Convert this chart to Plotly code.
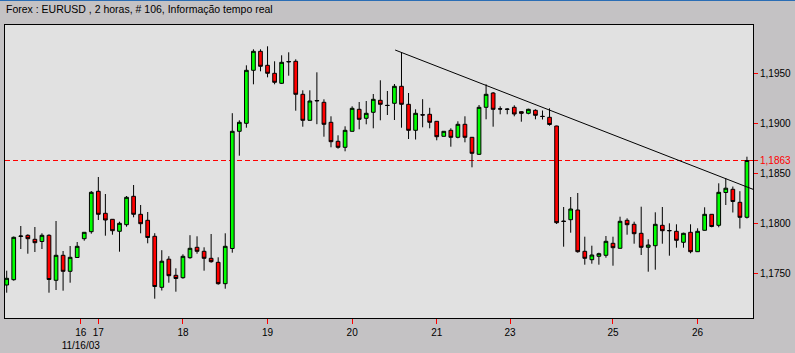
import plotly.graph_objects as go

title_text = "Forex : EURUSD , 2 horas, # 106, Informação tempo real"

opens = [1.17385, 1.17438, 1.17870, 1.17882, 1.17842, 1.17820, 1.17882, 1.17432, 1.17682, 1.17522,
         1.17660, 1.17848, 1.17918, 1.18322, 1.18102, 1.18042, 1.17922, 1.17988, 1.18272, 1.18092,
         1.18032, 1.17872, 1.17362, 1.17643, 1.17482, 1.17458, 1.17658, 1.17762, 1.17722, 1.17652,
         1.17612, 1.17398, 1.17750, 1.18922, 1.19002, 1.19532, 1.19722, 1.19582, 1.19502, 1.19402,
         1.19615, 1.19622, 1.19292, 1.19032, 1.19225, 1.19212, 1.19012, 1.18822, 1.18762, 1.18922,
         1.19142, 1.19052, 1.19112, 1.19232, 1.19182, 1.19202, 1.19372, 1.19192, 1.18932, 1.19088,
         1.19092, 1.19022, 1.18872, 1.18932, 1.18862, 1.18992, 1.18862, 1.18692, 1.19162, 1.19305,
         1.19147, 1.19145, 1.19162, 1.19118, 1.19102, 1.19132, 1.19072, 1.19062, 1.18975, 1.18025,
         1.18038, 1.18135, 1.17722, 1.17638, 1.17672, 1.17682, 1.17802, 1.17752, 1.18032, 1.17992,
         1.17902, 1.17762, 1.17778, 1.17982, 1.17930, 1.17922, 1.17812, 1.17912, 1.17718, 1.17932,
         1.18092, 1.17982, 1.18310, 1.18342, 1.18212, 1.18062]
highs = [1.17528, 1.17870, 1.17975, 1.17892, 1.17965, 1.17902, 1.17892, 1.18025, 1.17725, 1.17775,
         1.17815, 1.17915, 1.18325, 1.18465, 1.18295, 1.18045, 1.18018, 1.18275, 1.18385, 1.18185,
         1.18115, 1.17903, 1.17733, 1.17673, 1.17552, 1.17692, 1.17883, 1.17872, 1.17762, 1.17895,
         1.17662, 1.17902, 1.19103, 1.19032, 1.19582, 1.19742, 1.19742, 1.19772, 1.19622, 1.19682,
         1.19712, 1.19642, 1.19332, 1.19332, 1.19512, 1.19242, 1.19072, 1.18882, 1.18972, 1.19172,
         1.19215, 1.19225, 1.19295, 1.19432, 1.19325, 1.19395, 1.19712, 1.19305, 1.19142, 1.19243,
         1.19157, 1.19025, 1.18925, 1.18952, 1.19022, 1.19072, 1.18865, 1.19185, 1.19392, 1.19315,
         1.19172, 1.19152, 1.19182, 1.19122, 1.19148, 1.19142, 1.19130, 1.19152, 1.18978, 1.18165,
         1.18265, 1.18305, 1.17868, 1.17778, 1.17708, 1.17875, 1.17868, 1.18068, 1.18052, 1.18018,
         1.18168, 1.17842, 1.18112, 1.18165, 1.18002, 1.17992, 1.17908, 1.17992, 1.17952, 1.18162,
         1.18095, 1.18402, 1.18452, 1.18370, 1.18323, 1.18668]
lows = [1.17308, 1.17428, 1.17745, 1.17698, 1.17715, 1.17745, 1.17308, 1.17335, 1.17328, 1.17408,
        1.17655, 1.17828, 1.17898, 1.18035, 1.17878, 1.17888, 1.17718, 1.17968, 1.18062, 1.17902,
        1.17802, 1.17248, 1.17330, 1.17408, 1.17318, 1.17448, 1.17648, 1.17698, 1.17528, 1.17608,
        1.17388, 1.17348, 1.17708, 1.18678, 1.18958, 1.19392, 1.19522, 1.19462, 1.19392, 1.19395,
        1.19478, 1.19128, 1.18968, 1.19030, 1.18993, 1.18868, 1.18762, 1.18748, 1.18722, 1.18920,
        1.18942, 1.18992, 1.18952, 1.19032, 1.19085, 1.19035, 1.18958, 1.18845, 1.18840, 1.18962,
        1.18952, 1.18832, 1.18870, 1.18768, 1.18852, 1.18812, 1.18562, 1.18685, 1.19042, 1.18968,
        1.19092, 1.19092, 1.19072, 1.19018, 1.19092, 1.19042, 1.19040, 1.18978, 1.17995, 1.17768,
        1.17908, 1.17708, 1.17588, 1.17598, 1.17588, 1.17658, 1.17578, 1.17750, 1.17888, 1.17798,
        1.17685, 1.17518, 1.17538, 1.17798, 1.17678, 1.17758, 1.17758, 1.17702, 1.17715, 1.17928,
        1.17962, 1.17962, 1.18185, 1.18110, 1.17950, 1.18050]
closes = [1.17452, 1.17862, 1.17875, 1.17848, 1.17808, 1.17882, 1.17440, 1.17682, 1.17522, 1.17662,
          1.17772, 1.17912, 1.18312, 1.18092, 1.18035, 1.17928, 1.18002, 1.18262, 1.18092, 1.17998,
          1.17860, 1.17370, 1.17623, 1.17478, 1.17450, 1.17672, 1.17752, 1.17722, 1.17652, 1.17618,
          1.17398, 1.17772, 1.18922, 1.19012, 1.19532, 1.19722, 1.19572, 1.19502, 1.19412, 1.19612,
          1.19620, 1.19292, 1.19032, 1.19225, 1.19230, 1.18992, 1.18818, 1.18762, 1.18932, 1.19152,
          1.19042, 1.19102, 1.19242, 1.19192, 1.19180, 1.19372, 1.19192, 1.18932, 1.19102, 1.19085,
          1.19012, 1.18868, 1.18922, 1.18862, 1.18992, 1.18862, 1.18702, 1.19162, 1.19292, 1.19142,
          1.19145, 1.19142, 1.19095, 1.19102, 1.19142, 1.19082, 1.19070, 1.18990, 1.18008, 1.18020,
          1.18145, 1.17718, 1.17652, 1.17685, 1.17698, 1.17822, 1.17758, 1.18022, 1.17988, 1.17898,
          1.17762, 1.17785, 1.17992, 1.17928, 1.17928, 1.17832, 1.17902, 1.17718, 1.17922, 1.18092,
          1.17970, 1.18312, 1.18353, 1.18220, 1.18062, 1.18630]

# day labels on the time axis (position in bar index units)
day_tick_pos = [10.5, 13, 25, 37, 49, 61, 71.4, 86, 98]
day_labels = ["16<br>11/16/03", "17", "18", "19", "20", "21", "23", "25", "26"]

price_ticks = [1.1750, 1.1800, 1.1850, 1.1900, 1.1950]
last_price = 1.1863

# trend line (bar index, price)
trend_x = [55.1, 105.86]
trend_y = [1.19735, 1.18342]

bar_idx = list(range(len(opens)))

fig = go.Figure(go.Candlestick(
    x=bar_idx, open=opens, high=highs, low=lows, close=closes,
    increasing=dict(fillcolor="#00FF00", line=dict(color="black", width=1)),
    decreasing=dict(fillcolor="#FF0000", line=dict(color="black", width=1)),
    whiskerwidth=0, hoverinfo="none",
))

fmt = lambda v: f"{v:.4f}".replace(".", ",")
ytickvals = price_ticks + [last_price]
yticktext = [fmt(v) for v in price_ticks] + [f'<span style="color:#FF0000">{fmt(last_price)}</span>']

fig.add_shape(type="line", xref="paper", x0=0, x1=1, yref="y", y0=last_price, y1=last_price,
              line=dict(color="#FF0000", width=1, dash="5px,3px"), layer="below")
fig.add_shape(type="line", xref="x", yref="y", x0=trend_x[0], y0=trend_y[0], x1=trend_x[1], y1=trend_y[1],
              line=dict(color="black", width=1), layer="above")
# top window-frame line
fig.add_shape(type="line", xref="paper", yref="paper", x0=-5/748, x1=1+42/748, y0=317.5/293, y1=317.5/293,
              line=dict(color="#2A6DB5", width=1))

fig.update_layout(
    width=795, height=353,
    margin=dict(l=5, r=42, t=25, b=35),
    paper_bgcolor="#C4C2C4", plot_bgcolor="#E1E1E1",
    separators=",.",
    showlegend=False,
    boxgap=0.25,
    font=dict(family="Liberation Sans, Arial, sans-serif", size=10, color="black"),
    title=dict(text=title_text, xref="container", yref="container", x=6/795, xanchor="left",
               y=1-9/353, yanchor="middle", font=dict(size=10.5, color="black")),
)
fig.update_xaxes(range=[-0.24, 105.86], rangeslider_visible=False, showgrid=False, zeroline=False,
                 tickmode="array", tickvals=day_tick_pos, ticktext=day_labels, tickangle=0,
                 automargin=False,
                 ticks="outside", ticklen=5, tickcolor="#FF0000", tickwidth=1,
                 showline=True, mirror=True, linecolor="black", linewidth=1)
fig.update_yaxes(side="right", range=[1.17055, 1.19985], showgrid=False, zeroline=False,
                 tickmode="array", tickvals=ytickvals, ticktext=yticktext, automargin=False,
                 ticks="outside", ticklen=4, tickcolor="#FF0000", tickwidth=1,
                 showline=True, mirror=True, linecolor="black", linewidth=1)

fig.write_html("out.html")
